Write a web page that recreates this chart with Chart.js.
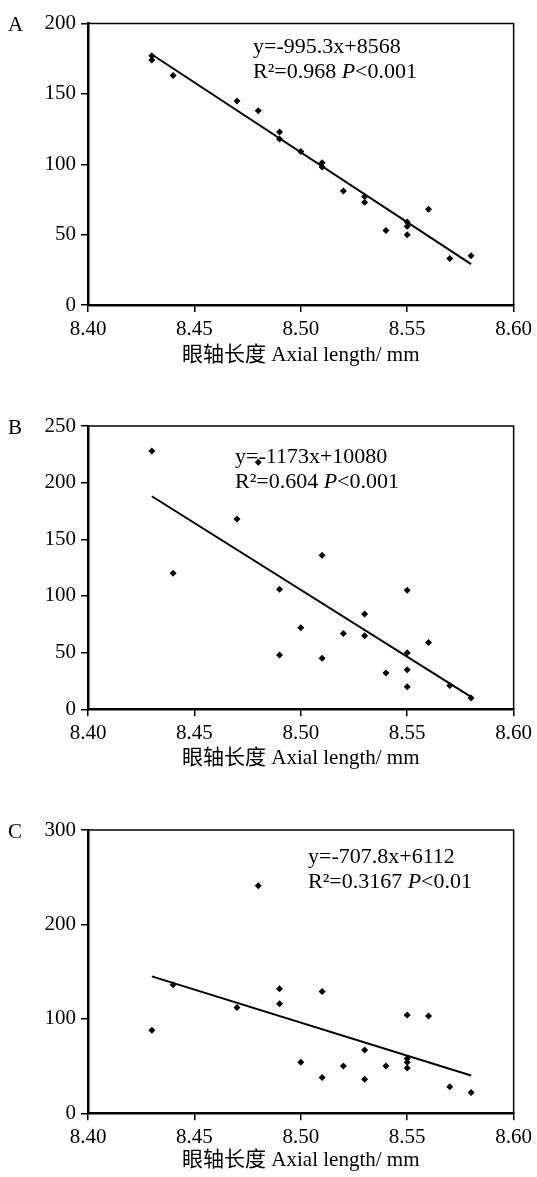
<!DOCTYPE html>
<html>
<head>
<meta charset="utf-8">
<script src="https://cdn.jsdelivr.net/npm/chart.js@4.4.1/dist/chart.umd.min.js"></script>
<style>
  body { margin: 0; background: #fff; }
  #wrap { position: relative; width: 537px; height: 1177px; }
  canvas { position: absolute; left: 0; }
</style>
</head>
<body>
<div id="wrap">
  <canvas id="chartA" style="top:0px"></canvas>
  <canvas id="chartB" style="top:380px"></canvas>
  <canvas id="chartC" style="top:780px"></canvas>
</div>
<script>
// x values (axial length, mm) are the same for all three panels
const xTicks = [8.40, 8.45, 8.50, 8.55, 8.60];
const fitX = [8.43, 8.58];
const xTitle = '眼轴长度 Axial length/ mm';

// Panel A
const xA = [8.43, 8.43, 8.44, 8.47, 8.48, 8.49, 8.49, 8.50, 8.51, 8.51, 8.52, 8.53, 8.53, 8.54, 8.55, 8.55, 8.55, 8.56, 8.57, 8.58];
const yA = [174, 177, 163, 145, 138, 123, 118, 109, 101, 98, 81, 77, 73, 53, 59, 56, 50, 68, 33, 35];
const fitA = [178, 29];
const yTicksA = [0, 50, 100, 150, 200];

// Panel B
const xB = [8.43, 8.44, 8.47, 8.48, 8.49, 8.49, 8.50, 8.51, 8.51, 8.52, 8.53, 8.53, 8.54, 8.55, 8.55, 8.55, 8.55, 8.56, 8.57, 8.58];
const yB = [228, 120, 168, 218, 106, 48, 72, 136, 45, 67, 84, 65, 32, 105, 50, 35, 20, 59, 21, 10];
const fitB = [188, 11];
const yTicksB = [0, 50, 100, 150, 200, 250];

// Panel C
const xC = [8.43, 8.44, 8.47, 8.48, 8.49, 8.49, 8.50, 8.51, 8.51, 8.52, 8.53, 8.53, 8.54, 8.55, 8.55, 8.55, 8.55, 8.56, 8.57, 8.58];
const yC = [88, 136, 112, 241, 132, 116, 54, 129, 38, 50, 67, 36, 50, 104, 58, 54, 48, 103, 28, 22];
const fitC = [145, 40];
const yTicksC = [0, 100, 200, 300];

const serif = '"Liberation Serif", "Times New Roman", "Noto Sans CJK SC", serif';

// draws the top/right frame, panel letter and the regression text
const panelText = {
    id: 'panelText',
    afterDraw(chart, args, opts) {
        const ctx = chart.ctx;
        const a = chart.chartArea;
        ctx.save();
        ctx.strokeStyle = '#000';
        ctx.lineWidth = 1.5;
        ctx.beginPath();
        ctx.moveTo(a.left, a.top);
        ctx.lineTo(a.right, a.top);
        ctx.lineTo(a.right, a.bottom);
        ctx.stroke();

        ctx.fillStyle = '#000';
        ctx.textBaseline = 'middle';
        ctx.font = '21px ' + serif;
        ctx.fillText(opts.label, 8, a.top + 2);

        ctx.font = '22px ' + serif;
        ctx.fillText(opts.eq, opts.x, opts.y);
        // second line: R² ... italic P ...
        let x = opts.x;
        const y2 = opts.y + 25;
        const first = 'R\u00B2=' + opts.r2 + ' ';
        ctx.fillText(first, x, y2);
        x += ctx.measureText(first).width;
        ctx.font = 'italic 22px ' + serif;
        ctx.fillText('P', x, y2);
        x += ctx.measureText('P').width;
        ctx.font = '22px ' + serif;
        ctx.fillText(opts.p, x, y2);
        ctx.restore();
    }
};

function makeChart(id, xs, ys, fit, yTicks, height, padTop, text) {
    const canvas = document.getElementById(id);
    canvas.width = 537;
    canvas.height = height;
    canvas.style.width = '537px';
    canvas.style.height = height + 'px';

    const points = xs.map((x, i) => ({ x: x, y: ys[i] }));
    const line = fitX.map((x, i) => ({ x: x, y: fit[i] }));

    return new Chart(canvas, {
        type: 'scatter',
        data: {
            datasets: [{
                data: points,
                pointStyle: 'rectRot',
                pointRadius: 3.5,
                backgroundColor: '#000',
                borderColor: '#000',
                borderWidth: 0
            }, {
                type: 'line',
                data: line,
                borderColor: '#000',
                borderWidth: 2,
                pointRadius: 0,
                fill: false
            }]
        },
        options: {
            responsive: false,
            animation: false,
            events: [],
            layout: {
                padding: { top: padTop, right: 22, left: 0, bottom: text.padBottom }
            },
            plugins: {
                legend: { display: false },
                tooltip: { enabled: false },
                panelText: text
            },
            scales: {
                x: {
                    type: 'linear',
                    min: xTicks[0],
                    max: xTicks[xTicks.length - 1],
                    afterBuildTicks: (s) => { s.ticks = xTicks.map(v => ({ value: v })); },
                    afterFit: (s) => { s.height = text.axisBox; },
                    grid: { drawOnChartArea: false, color: '#000', lineWidth: 1.5, tickLength: 7 },
                    border: { color: '#000', width: 2.5 },
                    ticks: {
                        color: '#000',
                        padding: 5,
                        maxRotation: 0,
                        font: { family: serif, size: 21 },
                        callback: (v) => Number(v).toFixed(2)
                    },
                    title: {
                        display: true,
                        text: xTitle,
                        color: '#000',
                        padding: 0,
                        font: { family: serif, size: 21 }
                    }
                },
                y: {
                    min: yTicks[0],
                    max: yTicks[yTicks.length - 1],
                    afterBuildTicks: (s) => { s.ticks = yTicks.map(v => ({ value: v })); },
                    afterFit: (s) => { s.width = 88; },
                    grid: { drawOnChartArea: false, color: '#000', lineWidth: 1.5, tickLength: 7 },
                    border: { color: '#000', width: 2.5 },
                    ticks: {
                        color: '#000',
                        padding: 5,
                        font: { family: serif, size: 21 }
                    }
                }
            }
        },
        plugins: [panelText]
    });
}

makeChart('chartA', xA, yA, fitA, yTicksA, 380, 23.5,
    { label: 'A', eq: 'y=-995.3x+8568', r2: '0.968', p: '<0.001', x: 253, y: 47, axisBox: 63, padBottom: 380 - 305 - 63 });
makeChart('chartB', xB, yB, fitB, yTicksB, 400, 46,
    { label: 'B', eq: 'y=-1173x+10080', r2: '0.604', p: '<0.001', x: 235, y: 457 - 380, axisBox: 62, padBottom: 400 - 329.3 - 62 });
makeChart('chartC', xC, yC, fitC, yTicksC, 397, 50,
    { label: 'C', eq: 'y=-707.8x+6112', r2: '0.3167', p: '<0.01', x: 308, y: 857 - 780, axisBox: 60, padBottom: 397 - 333.3 - 60 });
</script>
</body>
</html>
